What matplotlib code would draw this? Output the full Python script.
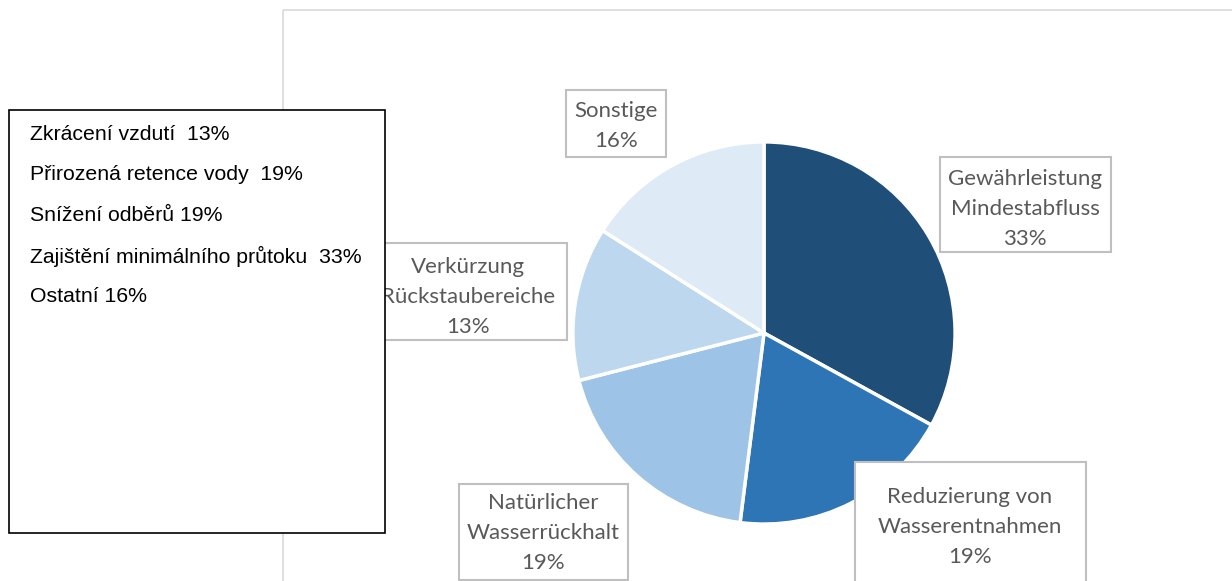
import matplotlib
matplotlib.use("Agg")
import matplotlib.pyplot as plt
from matplotlib.patches import Rectangle

categories = ["Gewährleistung\nMindestabfluss", "Reduzierung von\nWasserentnahmen",
              "Natürlicher\nWasserrückhalt", "Verkürzung\nRückstaubereiche", "Sonstige"]
values = [33, 19, 19, 13, 16]
colors = ["#1F4E79", "#2E75B6", "#9DC3E6", "#BDD7EE", "#DEEBF7"]
legend_lines = ["Zkrácení vzdutí  13%", "Přirozená retence vody  19%", "Snížení odběrů 19%",
                "Zajištění minimálního průtoku  33%", "Ostatní 16%"]

W, H = 1232, 581
fig = plt.figure(figsize=(W / 100, H / 100), dpi=100)

# overlay axes in pixel coordinates
ov = fig.add_axes([0, 0, 1, 1])
ov.set_xlim(0, W)
ov.set_ylim(H, 0)
ov.axis("off")

# outer chart frame
ov.add_patch(Rectangle((283, 10), 1000, 600, fill=False, edgecolor="#D9D9D9", lw=1.2, zorder=1))

# pie axes
cx, cy, r = 764, 333, 193
pax = fig.add_axes([(cx - r) / W, (H - cy - r) / H, 2 * r / W, 2 * r / H], zorder=2)
pax.pie(values, colors=colors, startangle=90, counterclock=False, radius=1,
        wedgeprops=dict(edgecolor="white", linewidth=2.5))
pax.set_xlim(-1.01, 1.01)
pax.set_ylim(-1.01, 1.01)
pax.set_aspect("equal")
pax.axis("off")

# data label boxes (layout only)
ov2 = fig.add_axes([0, 0, 1, 1], zorder=3)
ov2.set_xlim(0, W)
ov2.set_ylim(H, 0)
ov2.axis("off")
ov2.patch.set_alpha(0)

label_boxes = [  # x0, y0, x1, y1
    (940, 157, 1111, 252),
    (855, 462, 1086, 600),
    (459, 484, 628, 580),
    (382, 243, 567, 340),
    (566, 90, 666, 157),
]
label_centers = [(1025, 209), (970, 527), (543, 533), (468, 297), (616, 126)]
for cat, v, box, (tx, ty) in zip(categories, values, label_boxes, label_centers):
    x0, y0, x1, y1 = box
    ov2.add_patch(Rectangle((x0, y0), x1 - x0, y1 - y0, facecolor="white",
                            edgecolor="#BFBFBF", lw=1.5, zorder=3))
    ov2.text(tx, ty, f"{cat}\n{v}%", ha="center", va="center", fontsize=16,
             family="Lato", color="#595959", linespacing=1.62, zorder=4)

# Czech legend box on top
ov3 = fig.add_axes([0, 0, 1, 1], zorder=5)
ov3.set_xlim(0, W)
ov3.set_ylim(H, 0)
ov3.axis("off")
ov3.patch.set_alpha(0)
ov3.add_patch(Rectangle((9, 110), 376, 423, facecolor="white", edgecolor="black", lw=1.2))
for i, line in enumerate(legend_lines):
    ov3.text(30, 134 + i * 40.7, line, ha="left", va="center", fontsize=15.3,
             family="Liberation Sans", color="black")

fig.savefig("out.png", dpi=100)
